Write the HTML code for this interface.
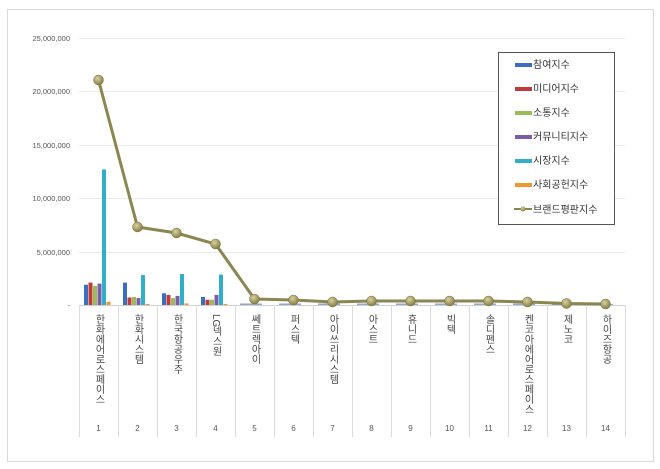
<!DOCTYPE html>
<html><head><meta charset="utf-8"><style>
body{margin:0;background:#fff;}
svg{display:block;font-family:"Liberation Sans","Noto Sans CJK KR",sans-serif;}
.yl{font-size:7.5px;fill:#555;text-anchor:end}
.vt{font-size:10px;fill:#444;writing-mode:tb;glyph-orientation-vertical:0;letter-spacing:0px}
.vs{font-size:10px;fill:#444;writing-mode:tb;letter-spacing:0px}
.n{font-size:8px;fill:#555;text-anchor:middle}
.lg{font-size:10px;fill:#333}
</style></head><body>
<svg width="660" height="469" viewBox="0 0 660 469">
<defs><radialGradient id="m" cx="40%" cy="35%" r="65%"><stop offset="0" stop-color="#d8d2a0"/><stop offset="1" stop-color="#857d44"/></radialGradient></defs>
<rect x="7.5" y="9.5" width="646" height="452" fill="#fff" stroke="#d9d9d9"/>
<g stroke="#ececec" stroke-width="1">
<line x1="79" y1="38.5" x2="625" y2="38.5"/><line x1="79" y1="91.5" x2="625" y2="91.5"/><line x1="79" y1="145.5" x2="625" y2="145.5"/><line x1="79" y1="198.5" x2="625" y2="198.5"/><line x1="79" y1="252.5" x2="625" y2="252.5"/>
</g>
<line x1="79" y1="305.5" x2="625" y2="305.5" stroke="#d0d0d0"/>
<g stroke="#dcdcdc">
<line x1="79.5" y1="305" x2="79.5" y2="437"/><line x1="118.5" y1="305" x2="118.5" y2="437"/><line x1="157.5" y1="305" x2="157.5" y2="437"/><line x1="196.5" y1="305" x2="196.5" y2="437"/><line x1="235.5" y1="305" x2="235.5" y2="437"/><line x1="274.5" y1="305" x2="274.5" y2="437"/><line x1="313.5" y1="305" x2="313.5" y2="437"/><line x1="352.5" y1="305" x2="352.5" y2="437"/><line x1="391.5" y1="305" x2="391.5" y2="437"/><line x1="430.5" y1="305" x2="430.5" y2="437"/><line x1="469.5" y1="305" x2="469.5" y2="437"/><line x1="508.5" y1="305" x2="508.5" y2="437"/><line x1="547.5" y1="305" x2="547.5" y2="437"/><line x1="586.5" y1="305" x2="586.5" y2="437"/><line x1="625.5" y1="305" x2="625.5" y2="437"/>
</g>
<text class="yl" x="70" y="41">25,000,000</text><text class="yl" x="70" y="94">20,000,000</text><text class="yl" x="70" y="148">15,000,000</text><text class="yl" x="70" y="201">10,000,000</text><text class="yl" x="70" y="255">5,000,000</text><text class="yl" x="70" y="308">-</text>
<g>
<rect x="84" y="284.7" width="4" height="20.3" fill="#3a6fc0"/><rect x="88.5" y="282.6" width="4" height="22.4" fill="#c0393b"/><rect x="93" y="285.8" width="4" height="19.2" fill="#9bbb59"/><rect x="97.5" y="283.6" width="4" height="21.4" fill="#7a5ca8"/><rect x="102" y="169.4" width="4" height="135.6" fill="#2fb0c8"/><rect x="106.5" y="301.8" width="4" height="3.2" fill="#f0962e"/>
<rect x="123" y="282.6" width="4" height="22.4" fill="#3a6fc0"/><rect x="127.5" y="297.5" width="4" height="7.5" fill="#c0393b"/><rect x="132" y="297" width="4" height="8" fill="#9bbb59"/><rect x="136.5" y="298.1" width="4" height="6.9" fill="#7a5ca8"/><rect x="141" y="275.1" width="4" height="29.9" fill="#2fb0c8"/><rect x="145.5" y="303.9" width="4" height="1.1" fill="#f0962e"/>
<rect x="162" y="293.3" width="4" height="11.7" fill="#3a6fc0"/><rect x="166.5" y="294.9" width="4" height="10.1" fill="#c0393b"/><rect x="171" y="298.1" width="4" height="6.9" fill="#9bbb59"/><rect x="175.5" y="295.9" width="4" height="9.1" fill="#7a5ca8"/><rect x="180" y="274" width="4" height="31" fill="#2fb0c8"/><rect x="184.5" y="303.4" width="4" height="1.6" fill="#f0962e"/>
<rect x="201" y="297" width="4" height="8" fill="#3a6fc0"/><rect x="205.5" y="299.7" width="4" height="5.3" fill="#c0393b"/><rect x="210" y="299.7" width="4" height="5.3" fill="#9bbb59"/><rect x="214.5" y="294.9" width="4" height="10.1" fill="#7a5ca8"/><rect x="219" y="274.6" width="4" height="30.4" fill="#2fb0c8"/><rect x="223.5" y="303.9" width="4" height="1.1" fill="#f0962e"/>
</g>
<g opacity="0.8">
<rect x="240" y="303.5" width="22" height="1.5" fill="#7a90c8"/><rect x="279" y="303.5" width="22" height="1.5" fill="#7a90c8"/><rect x="318" y="303.5" width="22" height="1.5" fill="#7a90c8"/><rect x="357" y="303.5" width="22" height="1.5" fill="#7a90c8"/><rect x="396" y="303.5" width="22" height="1.5" fill="#7a90c8"/><rect x="435" y="303.5" width="22" height="1.5" fill="#7a90c8"/><rect x="474" y="303.5" width="22" height="1.5" fill="#7a90c8"/><rect x="513" y="303.5" width="22" height="1.5" fill="#7a90c8"/><rect x="552" y="304" width="22" height="1" fill="#7a90c8"/><rect x="591" y="304" width="22" height="1" fill="#7a90c8"/>
</g>
<polyline fill="none" stroke="#8c8650" stroke-width="3" points="98.5,80 137.5,227 176.5,233 215.5,244 254.5,299 293.5,300 332.5,302 371.5,301 410.5,301 449.5,301 488.5,301 527.5,302 566.5,303.5 605.5,304"/>
<g fill="url(#m)" stroke="#7a7340" stroke-width="0.5">
<circle cx="98.5" cy="80" r="5"/><circle cx="137.5" cy="227" r="5"/><circle cx="176.5" cy="233" r="5"/><circle cx="215.5" cy="244" r="5"/><circle cx="254.5" cy="299" r="5"/><circle cx="293.5" cy="300" r="5"/><circle cx="332.5" cy="302" r="5"/><circle cx="371.5" cy="301" r="5"/><circle cx="410.5" cy="301" r="5"/><circle cx="449.5" cy="301" r="5"/><circle cx="488.5" cy="301" r="5"/><circle cx="527.5" cy="302" r="5"/><circle cx="566.5" cy="303.5" r="5"/><circle cx="605.5" cy="304" r="5"/>
</g>
<text class="vt" x="98.5" y="314">한화에어로스페이스</text>
<text class="vt" x="137.5" y="314">한화시스템</text>
<text class="vt" x="176.5" y="314">한국항공우주</text>
<text class="vs" x="215.5" y="314">LG</text><text class="vt" x="215.5" y="326">넥스원</text>
<text class="vt" x="254.5" y="314">쎄트렉아이</text>
<text class="vt" x="293.5" y="314">퍼스텍</text>
<text class="vt" x="332.5" y="314">아이쓰리시스템</text>
<text class="vt" x="371.5" y="314">아스트</text>
<text class="vt" x="410.5" y="314">휴니드</text>
<text class="vt" x="449.5" y="314">빅텍</text>
<text class="vt" x="488.5" y="314">솔디펜스</text>
<text class="vt" x="527.5" y="314">켄코아에어로스페이스</text>
<text class="vt" x="566.5" y="314">제노코</text>
<text class="vt" x="605.5" y="314">하이즈항공</text>
<g class="n"><text x="98.5" y="431">1</text><text x="137.5" y="431">2</text><text x="176.5" y="431">3</text><text x="215.5" y="431">4</text><text x="254.5" y="431">5</text><text x="293.5" y="431">6</text><text x="332.5" y="431">7</text><text x="371.5" y="431">8</text><text x="410.5" y="431">9</text><text x="449.5" y="431">10</text><text x="488.5" y="431">11</text><text x="527.5" y="431">12</text><text x="566.5" y="431">13</text><text x="605.5" y="431">14</text></g>
<rect x="498.5" y="52.5" width="116" height="172" fill="#fff" stroke="#555"/>
<rect x="515" y="63" width="17" height="4" fill="#3a6fc0"/><text class="lg" x="533" y="68">참여지수</text>
<rect x="515" y="87" width="17" height="4" fill="#c0393b"/><text class="lg" x="533" y="92">미디어지수</text>
<rect x="515" y="111" width="17" height="4" fill="#9bbb59"/><text class="lg" x="533" y="116">소통지수</text>
<rect x="515" y="135" width="17" height="4" fill="#7a5ca8"/><text class="lg" x="533" y="140">커뮤니티지수</text>
<rect x="515" y="159" width="17" height="4" fill="#2fb0c8"/><text class="lg" x="533" y="164">시장지수</text>
<rect x="515" y="183" width="17" height="4" fill="#f0962e"/><text class="lg" x="533" y="188">사회공헌지수</text>
<line x1="514" y1="209" x2="532" y2="209" stroke="#8c8650" stroke-width="2"/><circle cx="523" cy="209" r="2.5" fill="url(#m)"/><text class="lg" x="533" y="213">브랜드평판지수</text>
</svg>
</body></html>
